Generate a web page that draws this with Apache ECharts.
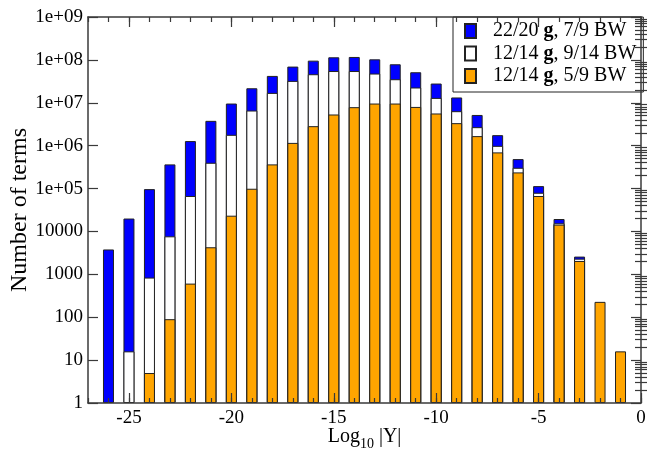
<!DOCTYPE html>
<html>
<head>
<meta charset="utf-8">
<script src="https://cdn.jsdelivr.net/npm/echarts@6/dist/echarts.min.js"></script>
<style>html,body{margin:0;padding:0;background:#fff}#c{width:657px;height:452px}</style>
</head>
<body>
<div id="c"></div>
<script>
// ---- data ----
const log10Y = [-26,-25,-24,-23,-22,-21,-20,-19,-18,-17,-16,-15,-14,-13,-12,-11,-10,-9,-8,-7,-6,-5,-4,-3,-2,-1];
const blueVals = [3800,20000,97000,366000,1280000,3790000,9600000,21800000,42300000,69800000,96000000,115000000,117000000,103000000,79000000,51500000,28100000,13300000,5200000,1760000,486000,114000,19500,2590,null,null];
const whiteVals = [null,16,840,7700,67000,399000,1790000,6600000,17000000,32400000,46300000,55000000,55000000,48000000,35400000,22700000,13000000,6370000,2700000,990000,305000,79800,15500,2320,null,null];
const orangeVals = [null,null,5,90,608,4280,23300,99000,366000,1160000,2850000,5330000,7900000,9600000,9600000,8000000,5630000,3350000,1670000,697000,238000,67000,14400,2050,228,16];
const seriesNames = ['22/20 g, 7/9 BW','12/14 g, 9/14 BW','12/14 g, 5/9 BW'];
const xMajorTicks = [-25,-20,-15,-10,-5,0];
const yMajorTicks = [1,10,100,1000,10000,1e5,1e6,1e7,1e8,1e9];
const yTickLabels = ['1','10','100','1000','10000','1e+05','1e+06','1e+07','1e+08','1e+09'];
const yMinorMult = [2,3,4,5,6,7,8,9];
const X_MIN = -27, X_MAX = 0;

const FONT = "'Liberation Serif','DejaVu Serif',serif";
const FRAME = '#3a3a3a';
const yMinorTicks = [];
for (let k = 0; k < yMajorTicks.length - 1; k++) {
  yMinorMult.forEach(m => yMinorTicks.push(m * yMajorTicks[k]));
}
const pairs = vals => log10Y.map((x, i) => [x, vals[i]]);

const axisLine = {show:true, onZero:false, lineStyle:{color:FRAME, width:1.5}};
const tickLine = {color:FRAME, width:1.2};
const xBase = {type:'value', min:X_MIN, max:X_MAX, interval:1, splitLine:{show:false}, z:10, nameMoveOverlap:false};
const yBase = {type:'log', logBase:10, min:1, max:1e9, splitLine:{show:false}, z:10, nameMoveOverlap:false};

const chart = echarts.init(document.getElementById('c'), null, {renderer:'canvas'});
chart.setOption({
  animation:false,
  backgroundColor:'#fff',
  grid:{left:88, right:16, top:17, bottom:49, containLabel:false, outerBoundsMode:'none'},
  legend:{
    data:seriesNames,
    orient:'vertical',
    left:453, top:17,
    itemWidth:11, itemHeight:14, itemGap:2.5,
    padding:[4,7,6,11],
    backgroundColor:'#fff', borderColor:'#222', borderWidth:1, borderRadius:0,
    icon:'rect',
    formatter: function(name){
      const p = name.split(' g');
      return '{a|' + p[0] + ' }{b|g}{a|' + p[1] + '}';
    },
    textStyle:{
      color:'#000', fontFamily:FONT, fontSize:20, lineHeight:20, padding:[0,0,0,12],
      rich:{
        a:{color:'#000', fontFamily:FONT, fontSize:20, lineHeight:20},
        b:{color:'#000', fontFamily:FONT, fontSize:20, lineHeight:20, fontWeight:'bold'}
      }
    }
  },
  xAxis:[
    Object.assign({}, xBase, {position:'bottom', axisLine:axisLine,
      axisTick:{show:true, inside:true, length:5, lineStyle:tickLine},
      axisLabel:{show:false}}),
    Object.assign({}, xBase, {position:'bottom', axisLine:{show:false},
      axisTick:{show:true, inside:true, length:10, customValues:xMajorTicks, lineStyle:tickLine},
      axisLabel:{show:true, customValues:xMajorTicks, margin:6, color:'#000', fontFamily:FONT, fontSize:19},
      name:'{a|Log}{sub|10}{a| |Y|}', nameLocation:'middle', nameGap:24,
      nameTextStyle:{rich:{
        a:{color:'#000', fontFamily:FONT, fontSize:20, lineHeight:22, verticalAlign:'top'},
        sub:{color:'#000', fontFamily:FONT, fontSize:14, lineHeight:14, padding:[12,0,0,0]}
      }}}),
    Object.assign({}, xBase, {position:'top', axisLine:axisLine,
      axisTick:{show:true, inside:true, length:5, lineStyle:tickLine},
      axisLabel:{show:false}}),
    Object.assign({}, xBase, {position:'top', axisLine:{show:false},
      axisTick:{show:true, inside:true, length:10, customValues:xMajorTicks, lineStyle:tickLine},
      axisLabel:{show:false}})
  ],
  yAxis:[
    Object.assign({}, yBase, {position:'left', axisLine:axisLine,
      axisTick:{show:true, inside:true, length:10, customValues:yMajorTicks, lineStyle:tickLine},
      axisLabel:{show:true, customValues:yMajorTicks, margin:5, color:'#000', fontFamily:FONT, fontSize:19,
        formatter:function(v){ return yTickLabels[Math.round(Math.log10(v))]; }},
      name:'Number of terms', nameLocation:'middle', nameGap:56,
      nameTextStyle:{color:'#000', fontFamily:FONT, fontSize:24}}),
    Object.assign({}, yBase, {position:'right', axisLine:axisLine,
      axisTick:{show:true, inside:true, length:10, customValues:yMajorTicks, lineStyle:tickLine},
      axisLabel:{show:false}}),
    Object.assign({}, yBase, {position:'left', axisLine:{show:false},
      axisTick:{show:true, inside:true, length:6, customValues:yMinorTicks, lineStyle:tickLine},
      axisLabel:{show:false}}),
    Object.assign({}, yBase, {position:'right', axisLine:{show:false},
      axisTick:{show:true, inside:true, length:6, customValues:yMinorTicks, lineStyle:tickLine},
      axisLabel:{show:false}})
  ],
  series:[
    {name:seriesNames[0], type:'bar', xAxisIndex:0, yAxisIndex:0, data:pairs(blueVals),
      barWidth:11, barGap:'-100%', itemStyle:{color:'#0000ff', borderColor:'#222', borderWidth:1}},
    {name:seriesNames[1], type:'bar', xAxisIndex:0, yAxisIndex:0, data:pairs(whiteVals),
      barWidth:11, barGap:'-100%', itemStyle:{color:'#ffffff', borderColor:'#222', borderWidth:1}},
    {name:seriesNames[2], type:'bar', xAxisIndex:0, yAxisIndex:0, data:pairs(orangeVals),
      barWidth:11, barGap:'-100%', itemStyle:{color:'#ffa500', borderColor:'#222', borderWidth:1}}
  ]
});
</script>
</body>
</html>
